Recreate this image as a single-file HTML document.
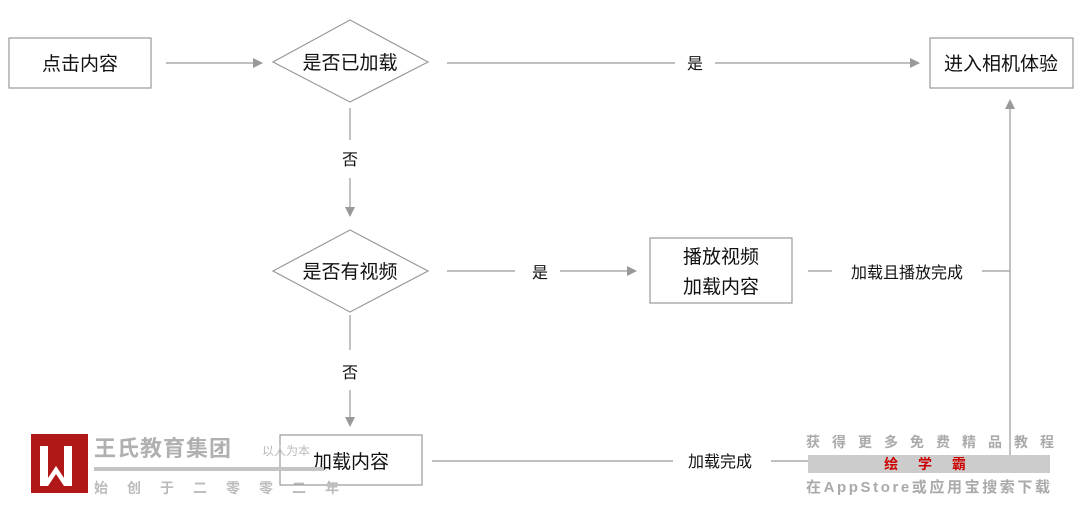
<!DOCTYPE html>
<html><head><meta charset="utf-8"><style>
html,body{margin:0;padding:0;background:#fff;width:1080px;height:512px;overflow:hidden}
svg{display:block}
text{font-family:"Liberation Sans","Noto Sans CJK SC",sans-serif;fill:#111}
</style></head><body>
<svg width="1080" height="512" viewBox="0 0 1080 512" xmlns="http://www.w3.org/2000/svg">
<defs><marker id="a" markerWidth="10" markerHeight="10" refX="9" refY="5" orient="auto" markerUnits="userSpaceOnUse"><path d="M0,0 L10,5 L0,10 z" fill="#999"/></marker></defs>
<g stroke="#999" stroke-width="1.2" fill="none">
<rect x="9" y="38" width="142" height="50" fill="#fff"/>
<polygon points="350,20 428,62 350,102 273,62" fill="#fff"/>
<rect x="930" y="38" width="143" height="50" fill="#fff"/>
<polygon points="350,230 428,271 350,312 273,271" fill="#fff"/>
<rect x="650" y="238" width="142" height="65" fill="#fff"/>
<rect x="280" y="435" width="142" height="50" fill="#fff"/>
<line x1="166" y1="63" x2="262" y2="63" marker-end="url(#a)"/>
<line x1="447" y1="63" x2="675" y2="63"/>
<line x1="715" y1="63" x2="919" y2="63" marker-end="url(#a)"/>
<line x1="350" y1="108" x2="350" y2="140"/>
<line x1="350" y1="178" x2="350" y2="216" marker-end="url(#a)"/>
<line x1="447" y1="271" x2="515" y2="271"/>
<line x1="560" y1="271" x2="636" y2="271" marker-end="url(#a)"/>
<line x1="808" y1="271" x2="832" y2="271"/>
<line x1="982" y1="271" x2="1010" y2="271"/>
<line x1="1010" y1="462" x2="1010" y2="100" marker-end="url(#a)"/>
<line x1="350" y1="315" x2="350" y2="350"/>
<line x1="350" y1="390" x2="350" y2="426" marker-end="url(#a)"/>
<line x1="432" y1="461" x2="673" y2="461"/>
<line x1="771" y1="461" x2="1010" y2="461"/>
</g>
<g font-size="19" text-anchor="middle">
<text x="80" y="70">点击内容</text>
<text x="350" y="69">是否已加载</text>
<text x="1001" y="70">进入相机体验</text>
<text x="350" y="278">是否有视频</text>
<text x="721" y="263">播放视频</text>
<text x="721" y="293">加载内容</text>
<text x="351" y="468">加载内容</text>
</g>
<g font-size="16" text-anchor="middle">
<text x="695" y="69">是</text>
<text x="350" y="165">否</text>
<text x="540" y="278">是</text>
<text x="907" y="278">加载且播放完成</text>
<text x="350" y="378">否</text>
<text x="720" y="467">加载完成</text>
</g>
<rect x="31" y="434" width="57" height="59" fill="#b01818"/>
<path d="M40,446 L48,446 L48,478 L56,466 L64,478 L64,446 L72,446 L72,486 L64,486 L56,474 L48,486 L40,486 z" fill="#fff"/>
<text x="94" y="456" font-size="22" style="fill:#b0b0b0;font-weight:bold;letter-spacing:1px">王氏教育集团</text>
<text x="262" y="455" font-size="12" style="fill:#bbb">以人为本</text>
<rect x="94" y="467" width="230" height="4" fill="#c4c4c4"/>
<text x="94" y="493" font-size="14" style="fill:#bbb;font-weight:bold;letter-spacing:19px">始创于二零零二年</text>
<text x="806" y="447" font-size="14" style="fill:#aaa;font-weight:bold;letter-spacing:12px">获得更多免费精品教程</text>
<rect x="808" y="455" width="242" height="18" fill="#ccc"/>
<text x="929" y="469" font-size="14" text-anchor="middle" style="fill:#c00;font-weight:bold;letter-spacing:8px">绘 学 霸</text>
<text x="806" y="492" font-size="15" textLength="244" lengthAdjust="spacing" style="fill:#aaa;font-weight:bold">在AppStore或应用宝搜索下载</text>
</svg>
</body></html>
